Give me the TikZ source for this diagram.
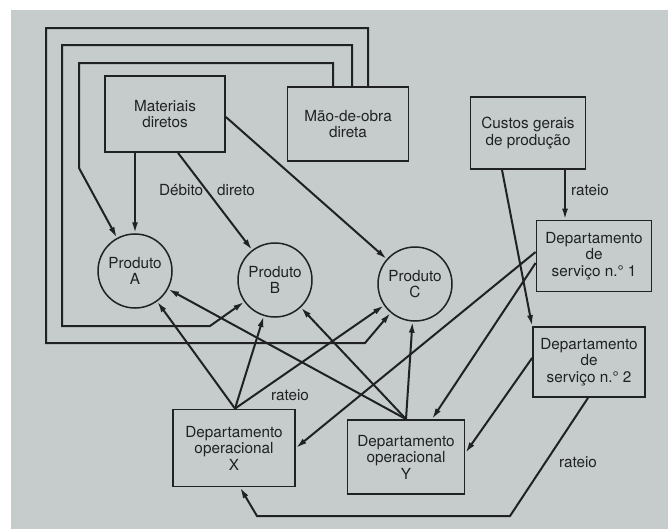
\documentclass[tikz,border=0pt]{standalone}
\usepackage{fontspec}
\setmainfont{TeX Gyre Heros}
\usetikzlibrary{arrows.meta}
\definecolor{bg}{RGB}{197,204,203}
\definecolor{ink}{RGB}{32,34,34}
\begin{document}
\begin{tikzpicture}[x=1pt,y=-1pt,
  txt/.style={font=\fontsize{15.3}{16.5}\selectfont,text=ink},
  box/.style={txt,draw=ink,line width=1.8pt,rectangle,align=center,inner sep=0pt},
  prod/.style={txt,draw=ink,line width=1.5pt,circle,minimum size=74pt,align=center,inner sep=0pt},
  conn/.style={draw=ink,line width=2pt,line join=miter,-{Latex[length=11pt,width=6pt]}},
  lbl/.style={txt,inner sep=0pt}]
\useasboundingbox (0,0) rectangle (668,529);
\fill[white] (0,0) rectangle (668,529);
\fill[bg] (11,10) rectangle (668,529);

% nodes
\node[box,minimum width=120pt,minimum height=76pt] (md) at (165,114) {Materiais\\diretos};
\node[box,minimum width=121pt,minimum height=74pt] (mo) at (348,124) {Mão-de-obra\\direta};
\node[box,minimum width=115pt,minimum height=72pt] (cg) at (528,133) {Custos gerais\\de produção};
\node[box,minimum width=115pt,minimum height=71pt] (s1) at (594,256) {Departamento\\de\\serviço n.° 1};
\node[box,minimum width=112pt,minimum height=70pt] (s2) at (589,362) {Departamento\\de\\serviço n.° 2};
\node[box,minimum width=122pt,minimum height=77pt] (dx) at (234,448) {Departamento\\operacional\\X};
\node[box,minimum width=117pt,minimum height=74pt] (dy) at (406,457) {Departamento\\operacional\\Y};
\node[prod] (pa) at (135,271) {Produto\\A};
\node[prod] (pb) at (275,280) {Produto\\B};
\node[prod] (pc) at (415,284) {Produto\\C};

% labels
\node[lbl] (ldeb) at (207,190) {Débito\hspace{14pt}direto};
\node[lbl] (lr1) at (590,190) {rateio};
\node[lbl] (lr2) at (290,395) {rateio};
\node[lbl] (lr3) at (578,462) {rateio};

% materiais diretos
\draw[conn] ([xshift=-30pt]md.south) -- (pa);
\draw[conn] ([xshift=13pt]md.south) -- (pb);
\draw[conn] ([yshift=-3pt]md.east) -- (pc);

% mao-de-obra direta
\draw[conn] ([xshift=-15pt]mo.north) -- ++(0,-23) -| (79,168) -- (pa);
\draw[conn] ([xshift=4pt]mo.north) -- ++(0,-41) -| (62,326) -- (210,326) -- (pb);
\draw[conn] ([xshift=20pt]mo.north) -- ++(0,-58) -| (46,343) -- (365,343) -- (pc);

% custos gerais
\draw[conn] ([xshift=37pt]cg.south) -- ([xshift=37pt]cg.south |- s1.north);
\draw[conn] ([xshift=-26pt]cg.south) -- (s2.north west);

% servico 1
\draw[conn] ([yshift=4pt]s1.west) -- (dx.east);
\draw[conn] ([yshift=-7pt]s1.west) -- ([xshift=26pt]dy.north);

% servico 2
\draw[conn] ([yshift=4pt]s2.west) -- ([yshift=4pt]dy.east);
\draw[conn] ([xshift=-1pt]s2.south) -- (510,516) -- (257,516) -- ([xshift=6pt]dx.south);

% operacional X
\draw[conn] ([xshift=1pt]dx.north) -- (pa);
\draw[conn] ([xshift=1pt]dx.north) -- (pb);
\draw[conn] ([xshift=1pt]dx.north) -- (pc);

% operacional Y
\draw[conn] (dy.north) -- (pa);
\draw[conn] (dy.north) -- (pb);
\draw[conn] (dy.north) -- (pc);
\end{tikzpicture}
\end{document}
